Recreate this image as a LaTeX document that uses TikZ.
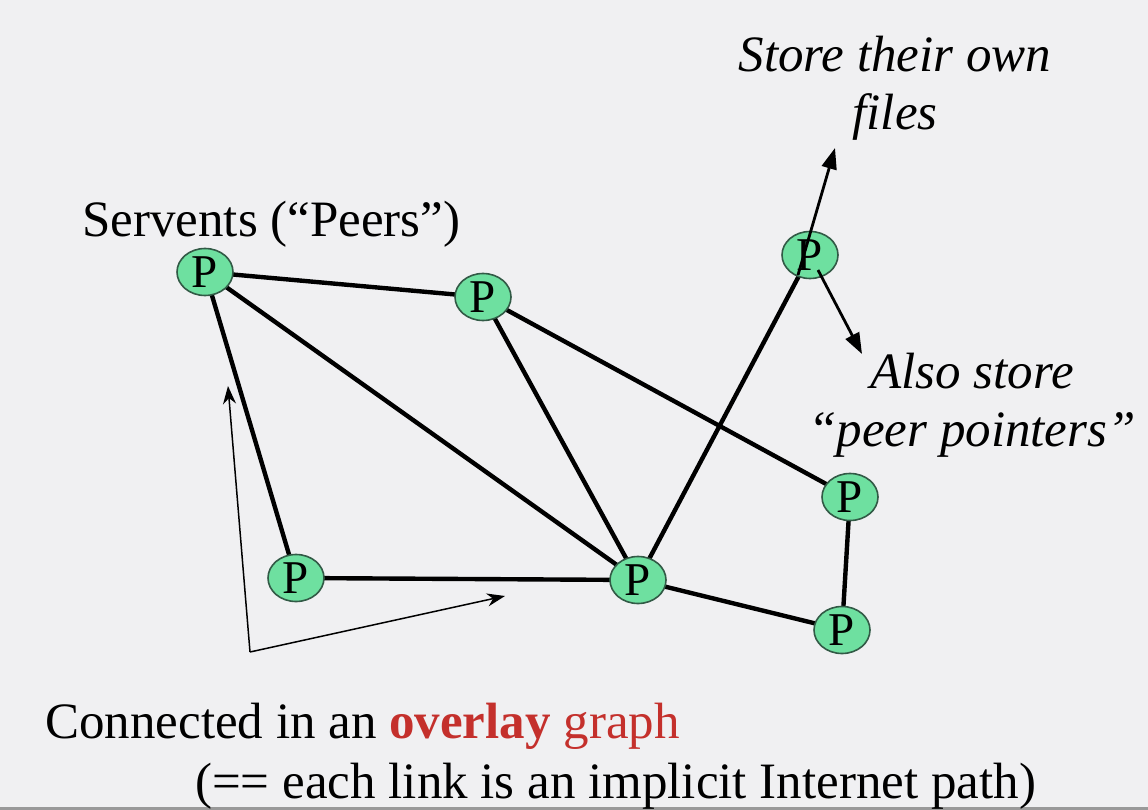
\documentclass[tikz,border=0pt]{standalone}
\usepackage{fontspec}
\setmainfont{Liberation Serif}
\usetikzlibrary{arrows.meta,shapes.geometric}
\definecolor{bg}{RGB}{240,240,242}
\definecolor{peer}{RGB}{110,224,160}
\definecolor{peerborder}{RGB}{50,90,70}
\definecolor{redtxt}{RGB}{196,48,44}
\begin{document}
\begin{tikzpicture}[x=1pt,y=-1pt,
  peernode/.style={ellipse,fill=peer,draw=peerborder,line width=1.6pt,minimum width=56pt,minimum height=47pt,inner sep=0pt,font=\fontsize{47}{48}\selectfont},
  link/.style={line width=4.4pt,black},
  thinarrow/.style={line width=1.5pt,-{Stealth[length=18pt,width=13pt]}},
  fatarrow/.style={line width=2.8pt,-{Triangle[length=21pt,width=15pt]}},
  txt/.style={font=\fontsize{51}{58}\selectfont,inner sep=0pt},
  itxt/.style={font=\fontsize{51}{58}\selectfont\itshape,inner sep=0pt,align=center,anchor=base}]
\fill[bg] (0,0) rectangle (1148,810);
\fill[black!40] (0,807) rectangle (1148,810);
\useasboundingbox (0,0) rectangle (1148,810);
\path (205,272) coordinate (c1) (483,297) coordinate (c2) (810,255) coordinate (c3)
      (296,578) coordinate (c4) (638,580) coordinate (c5) (850,497) coordinate (c6) (842,630) coordinate (c7);
\draw[link] (c1)--(c2) (c1)--(c4) (c1)--(c5) (c2)--(c5) (c2)--(c6) (c3)--(c5) (c4)--(c5) (c5)--(c7) (c6)--(c7);
\foreach \i in {1,...,7} \node[peernode] (p\i) at (c\i) {\raisebox{-3pt}{P}};
\coordinate (up) at (835,148);
\coordinate (down) at (862,354);
\draw[fatarrow] ([shift={(-12,20)}]p3.center) -- (up);
\draw[fatarrow] ([shift={(8,15)}]p3.center) -- (down);
\coordinate (corner) at (250,652);
\coordinate (tipA) at (228,386);
\coordinate (tipB) at (505,596);
\draw[thinarrow] (corner) -- (tipA);
\draw[thinarrow] (corner) -- (tipB);
\node[itxt] (store) at (895,130) {Store their own\\files};
\node[itxt] (also) at (972,446) {Also store\\“peer pointers”};
\node[txt,anchor=base west] (serv) at (82,237) {Servents (“Peers”)};
\node[txt,anchor=base west] (conn) at (45,738) {Connected in an \textcolor{redtxt}{\textbf{overlay} graph}};
\node[txt,anchor=base west] (impl) at (195,798) {(== each link is an implicit Internet path)};
\end{tikzpicture}
\end{document}
